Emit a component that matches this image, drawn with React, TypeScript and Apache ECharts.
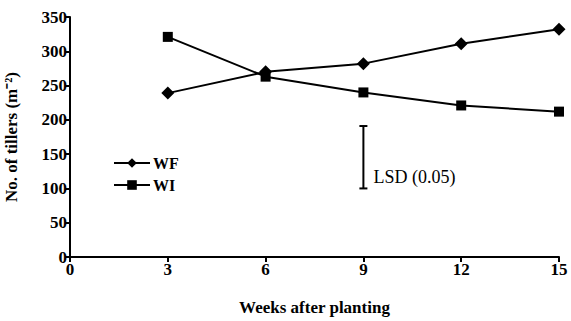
import React, { useEffect, useRef } from "react";
import * as echarts from "echarts";

const weeks = [3, 6, 9, 12, 15];
const wfValues = [239, 270, 282, 311, 332];
const wiValues = [321, 263, 240, 221, 212];
const lsd = { x: 9, low: 100, high: 191, label: "LSD (0.05)" };
const xTicks = [0, 3, 6, 9, 12, 15];

const FONT = "Times New Roman";

export default function App() {
  const ref = useRef<HTMLDivElement>(null);
  useEffect(() => {
    if (!ref.current) return;
    const chart = echarts.init(ref.current, null, { renderer: "svg" });
    chart.setOption({
      animation: false,
      grid: { left: 70, right: 12, top: 17, bottom: 64, outerBoundsMode: "none", containLabel: false },
      legend: {
        orient: "vertical",
        left: 108,
        top: 150,
        itemWidth: 36,
        itemHeight: 12,
        itemGap: 6,
        textStyle: { fontFamily: FONT, fontSize: 16, fontWeight: "bold", color: "#000", padding: [0, 0, 0, -2] },
        data: ["WF", "WI"],
      },
      xAxis: {
        type: "value",
        min: 0,
        max: 15,
        interval: 3,
        name: "Weeks after planting",
        nameLocation: "middle",
        nameGap: 42,
        nameTextStyle: { fontFamily: FONT, fontSize: 17, fontWeight: "bold", color: "#000" },
        axisLine: { lineStyle: { color: "#000", width: 2 } },
        axisTick: { show: true, length: 5, lineStyle: { color: "#000", width: 2 } },
        axisLabel: {
          fontFamily: FONT, fontSize: 17, fontWeight: "bold", color: "#000", margin: 4,
          formatter: (v: number) => (xTicks.includes(v) ? String(v) : ""),
        },
        splitLine: { show: false },
      },
      yAxis: {
        type: "value",
        min: 0,
        max: 350,
        interval: 50,
        name: "No. of tillers (m⁻²)",
        nameLocation: "middle",
        nameGap: 50,
        nameTextStyle: { fontFamily: FONT, fontSize: 17, fontWeight: "bold", color: "#000" },
        axisLine: { show: true, lineStyle: { color: "#000", width: 2 } },
        axisTick: { show: true, length: 5, lineStyle: { color: "#000", width: 2 } },
        axisLabel: { fontFamily: FONT, fontSize: 17, fontWeight: "bold", color: "#000", margin: 3 },
        splitLine: { show: false },
      },
      series: [
        {
          name: "WF",
          type: "line",
          data: weeks.map((w, i) => [w, wfValues[i]]),
          symbol: "diamond",
          symbolSize: [13, 13],
          itemStyle: { color: "#000" },
          lineStyle: { color: "#000", width: 2 },
        },
        {
          name: "WI",
          type: "line",
          data: weeks.map((w, i) => [w, wiValues[i]]),
          symbol: "rect",
          symbolSize: 10,
          itemStyle: { color: "#000" },
          lineStyle: { color: "#000", width: 2 },
        },
        {
          name: "LSD",
          type: "custom",
          data: [[lsd.x, lsd.low, lsd.high]],
          renderItem: (params: any, api: any) => {
            const top = api.coord([api.value(0), api.value(2)]);
            const bot = api.coord([api.value(0), api.value(1)]);
            const hw = 4;
            return {
              type: "group",
              children: [
                { type: "line", shape: { x1: top[0], y1: top[1], x2: bot[0], y2: bot[1] }, style: { stroke: "#000", lineWidth: 2 } },
                { type: "line", shape: { x1: top[0] - hw, y1: top[1], x2: top[0] + hw, y2: top[1] }, style: { stroke: "#000", lineWidth: 2 } },
                { type: "line", shape: { x1: bot[0] - hw, y1: bot[1], x2: bot[0] + hw, y2: bot[1] }, style: { stroke: "#000", lineWidth: 2 } },
                {
                  type: "text",
                  style: {
                    text: lsd.label,
                    x: top[0] + 10,
                    y: bot[1] - 11,
                    verticalAlign: "middle",
                    fontFamily: FONT,
                    fontSize: 18,
                    fill: "#000",
                  },
                },
              ],
            };
          },
        },
      ],
    });
    return () => chart.dispose();
  }, []);
  return <div ref={ref} style={{ width: 571, height: 321, position: "absolute", left: 0, top: 0 }} />;
}
